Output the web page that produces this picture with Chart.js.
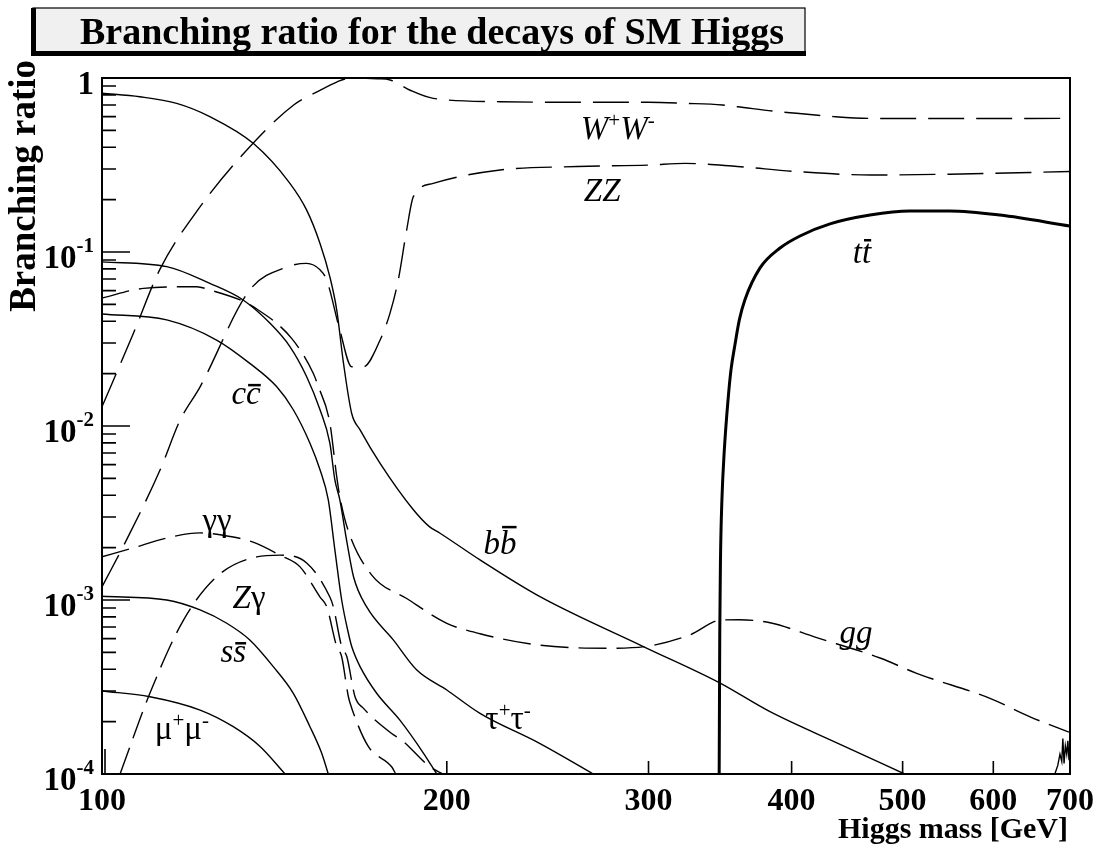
<!DOCTYPE html>
<html>
<head>
<meta charset="utf-8">
<title>Branching ratio for the decays of SM Higgs</title>
<script src="https://cdn.jsdelivr.net/npm/chart.js@4.4.1/dist/chart.umd.min.js"></script>
<style>
  html, body { margin: 0; padding: 0; background: #fff; }
  canvas { display: block; }
</style>
</head>
<body>
<canvas id="chartBR" width="1096" height="844"></canvas>
<script>
// Higgs mass (GeV) and branching ratio for each decay channel

const massBB = [100, 107.9, 116.2, 124.2, 135.6, 145.9, 150.9, 155, 158.1, 160.3, 162.5, 165.2, 168, 174.9, 187, 193.1, 197.3, 213.8, 241.2, 296.9, 345.8, 383, 440, 502];
const brBB = [0.817, 0.78, 0.715, 0.6, 0.42, 0.248, 0.174, 0.112, 0.072, 0.0464, 0.0229, 0.0118, 0.0095, 0.0061, 0.0033, 0.00264, 0.00242, 0.0017, 0.001045, 0.00054, 0.000335, 0.000228, 0.000149, 0.0001];

const massTauTau = [100, 113.9, 124.2, 132.8, 140.2, 145.9, 150.9, 155, 158.1, 159.7, 161.3, 163.5, 165.8, 170.2, 179.6, 188.3, 200, 213.8, 241, 268.5];
const brTauTau = [0.0877, 0.0824, 0.066, 0.053, 0.0389, 0.0286, 0.0192, 0.0124, 0.00796, 0.0049, 0.00376, 0.00221, 0.00136, 0.000915, 0.00059, 0.000396, 0.000304, 0.000223, 0.00015, 0.0001];

const massCC = [100, 113.9, 125.9, 134.6, 142.1, 146.9, 151.9, 155, 157.6, 159.7, 161.9, 164.1, 165.2, 168, 173.7, 182, 190.8, 196];
const brCC = [0.044, 0.0407, 0.0312, 0.0229, 0.0168, 0.0124, 0.00796, 0.0056, 0.00376, 0.00194, 0.001, 0.000644, 0.00054, 0.000414, 0.000291, 0.000204, 0.000132, 0.0001];

const massSS = [100, 113.9, 121.8, 128.5, 134.6, 141.1, 146.9, 151.9, 155.5, 157.6];
const brSS = [0.00105, 0.001, 0.000877, 0.000735, 0.000589, 0.000414, 0.000291, 0.000187, 0.000132, 0.0001];

const massMuMu = [100, 110.1, 121.8, 130.2, 137.4, 144.5];
const brMuMu = [0.0003, 0.000278, 0.000233, 0.000187, 0.000144, 0.0001];

const massTT = [345.8, 346.2, 346.7, 347.7, 349.4, 352, 354.1, 356.9, 360.1, 364.1, 375.4, 390.8, 406.8, 432.1, 468.3, 507.4, 549.9, 608.1, 700];
const brTT = [0.0001, 0.00064, 0.0017, 0.00376, 0.0073, 0.0141, 0.021, 0.0292, 0.0407, 0.053, 0.081, 0.1054, 0.1236, 0.145, 0.163, 0.172, 0.172, 0.163, 0.141];

const massGG = [100, 108.7, 121, 124.2, 132, 135.5, 146.4, 152.9, 154.3, 158.1, 160.3, 161.3, 164, 172, 184.5, 200, 213.8, 241, 275.8, 298, 326, 347, 360, 383, 420, 477.8, 514.3, 596, 646, 698.5];
const brGG = [0.0544, 0.0618, 0.0632, 0.0605, 0.053, 0.0485, 0.0319, 0.0201, 0.0172, 0.0104, 0.0051, 0.00392, 0.00252, 0.00139, 0.00102, 0.000735, 0.00064, 0.00055, 0.000528, 0.00054, 0.00063, 0.000767, 0.00077, 0.00074, 0.00061, 0.000464, 0.000379, 0.000272, 0.000213, 0.000174];

const massGamGam = [100, 106.4, 113.9, 121.8, 130.2, 135.5, 143, 148.9, 155, 157.1, 160.3, 161.9, 164.1, 165.2, 170.8, 179, 180.5];
const brGamGam = [0.00177, 0.00199, 0.00227, 0.00243, 0.0023, 0.00215, 0.00181, 0.00155, 0.00104, 0.000915, 0.00054, 0.000472, 0.000278, 0.000239, 0.000144, 0.00011, 0.0001];

const massZGam = [103.7, 110.1, 117.8, 125.9, 136.5, 143, 150.9, 158.1, 159.2, 161.9, 163.6, 166.3, 169.1, 179, 182.6, 193.3, 198.5];
const brZGam = [0.0001, 0.000291, 0.000767, 0.00136, 0.00177, 0.00181, 0.00163, 0.00104, 0.000915, 0.00054, 0.000472, 0.000278, 0.000239, 0.000171, 0.000157, 0.00011, 0.0001];

const massWW = [100, 106.5, 112.4, 121.5, 133.8, 147, 155, 160.3, 163.5, 170, 174, 178.5, 185.6, 194.6, 222.6, 260, 300, 323, 348, 358.6, 389.6, 404, 435.5, 469, 550, 700];
const brWW = [0.0129, 0.034, 0.08, 0.178, 0.386, 0.70, 0.85, 0.948, 0.99, 0.995, 0.99, 0.974, 0.853, 0.764, 0.731, 0.725, 0.725, 0.715, 0.70, 0.684, 0.64, 0.627, 0.60, 0.586, 0.585, 0.586];

const massZZ = [100, 105, 112.4, 117, 121.8, 134.6, 145, 150.9, 155, 157.1, 161.3, 165.2, 169.1, 174.9, 178.4, 181.4, 184.5, 187, 194.6, 222.6, 260, 300, 323, 358.6, 404, 469, 550, 700];
const brZZ = [0.00119, 0.0022, 0.0056, 0.0108, 0.0168, 0.0605, 0.082, 0.086, 0.079, 0.069, 0.0356, 0.0219, 0.0219, 0.0312, 0.0444, 0.069, 0.134, 0.208, 0.248, 0.296, 0.31, 0.316, 0.323, 0.31, 0.29, 0.277, 0.28, 0.29];

// numerical jitter at the high mass end
const massJitter = [679, 683, 686, 688.5, 690, 691.7, 693.5, 695.4, 697, 698.6, 700];
const brJitter = [0.0001, 0.000112, 0.00013, 0.000118, 0.00016, 0.000115, 0.000145, 0.00013, 0.000155, 0.00012, 0.00014];

// axis ticks
const xTicks = [100, 200, 300, 400, 500, 600, 700];
const xTickLabels = ["100", "200", "300", "400", "500", "600", "700"];
const yDecades = [1e-4, 1e-3, 1e-2, 1e-1, 1];
const yDecadeLabels = [["10", "-4"], ["10", "-3"], ["10", "-2"], ["10", "-1"], ["1", ""]];

// channel names written on the plot, anchored at (mass, BR)
const channelLabels = [
  { m: 282, br: 0.516, parts: [{ t: "W", it: true }, { t: "+", sup: true }, { t: "W", it: true }, { t: "-", sup: true }] },
  { m: 273.3, br: 0.227, parts: [{ t: "ZZ", it: true }] },
  { m: 460.8, br: 0.1, parts: [{ t: "t", it: true }, { t: "t", it: true, bar: 21 }] },
  { m: 133.6, br: 0.0155, parts: [{ t: "c", it: true }, { t: "c", it: true, bar: 17 }] },
  { m: 222.6, br: 0.00213, parts: [{ t: "b", it: true }, { t: "b", it: true, bar: 25 }] },
  { m: 126, br: 0.0029, parts: [{ t: "\u03b3\u03b3" }] },
  { m: 134.4, br: 0.00104, parts: [{ t: "Z", it: true }, { t: "\u03b3" }] },
  { m: 130.2, br: 0.000509, parts: [{ t: "s", it: true }, { t: "s", it: true, bar: 17 }] },
  { m: 117.4, br: 0.000184, parts: [{ t: "\u03bc" }, { t: "+", sup: true }, { t: "\u03bc" }, { t: "-", sup: true }] },
  { m: 226.2, br: 0.00021, parts: [{ t: "\u03c4" }, { t: "+", sup: true }, { t: "\u03c4" }, { t: "-", sup: true }] },
  { m: 455.2, br: 0.000655, parts: [{ t: "gg", it: true }] }
];

const SERIF = '"Liberation Serif", "Times New Roman", serif';

function points(mass, br) {
  return mass.map((m, i) => ({ x: m, y: br[i] }));
}

function curve(mass, br, dash, width) {
  return {
    data: points(mass, br),
    borderColor: "#000",
    borderWidth: width || 1.4,
    borderDash: dash || [],
    pointRadius: 0,
    fill: false,
    cubicInterpolationMode: "monotone"
  };
}

function drawParts(ctx, parts, cx, cy) {
  const size = 33;
  const fontOf = p => (p.it ? "italic " : "") + (p.sup ? 21 : size) + "px " + SERIF;
  let total = 0;
  const widths = parts.map(p => {
    ctx.font = fontOf(p);
    const w = ctx.measureText(p.t).width;
    total += w;
    return w;
  });
  let x = cx - total / 2;
  const base = cy + 11;
  ctx.textAlign = "left";
  ctx.textBaseline = "alphabetic";
  parts.forEach((p, i) => {
    ctx.font = fontOf(p);
    ctx.fillText(p.t, x, p.sup ? base - 12 : base);
    if (p.bar) {
      ctx.fillRect(x + 2, base - p.bar - 3, widths[i] - 2, 2.5);
    }
    x += widths[i];
  });
}

const decorations = {
  id: "decorations",
  afterDatasetsDraw(chart) {
    const { ctx, chartArea: a, scales } = chart;
    const xs = scales.x, ys = scales.y;
    ctx.save();
    ctx.fillStyle = "#000";
    ctx.strokeStyle = "#000";

    // frame
    ctx.lineWidth = 2;
    ctx.strokeRect(a.left, a.top, a.right - a.left, a.bottom - a.top);

    // y ticks: long at decades, short for 2..9
    ctx.lineWidth = 1.6;
    ctx.beginPath();
    yDecades.forEach((d, k) => {
      const py = ys.getPixelForValue(d);
      ctx.moveTo(a.left, py);
      ctx.lineTo(a.left + 28, py);
      if (k < yDecades.length - 1) {
        for (let j = 2; j <= 9; j++) {
          const my = ys.getPixelForValue(d * j);
          ctx.moveTo(a.left, my);
          ctx.lineTo(a.left + 14, my);
        }
      }
    });
    // x ticks: 100 is a primary tick, drawn just inside the frame
    xTicks.forEach((t, k) => {
      const px = xs.getPixelForValue(t) + (k === 0 ? 3 : 0);
      ctx.moveTo(px, a.bottom);
      ctx.lineTo(px, a.bottom - (k === 0 ? 25 : 13));
    });
    ctx.stroke();

    // y tick labels
    ctx.textBaseline = "alphabetic";
    ctx.textAlign = "left";
    yDecades.forEach((d, k) => {
      const py = ys.getPixelForValue(d);
      const [mant, ex] = yDecadeLabels[k];
      ctx.font = "bold 21px " + SERIF;
      const we = ex ? ctx.measureText(ex).width : 0;
      ctx.font = "bold 33px " + SERIF;
      const wm = ctx.measureText(mant).width;
      const right = a.left - 8;
      ctx.fillText(mant, right - we - wm, py + 16);
      if (ex) {
        ctx.font = "bold 21px " + SERIF;
        ctx.fillText(ex, right - we, py);
      }
    });

    // x tick labels
    ctx.font = "bold 32px " + SERIF;
    ctx.textAlign = "center";
    xTicks.forEach((t, k) => {
      ctx.fillText(xTickLabels[k], xs.getPixelForValue(t), a.bottom + 36);
    });

    // axis titles
    ctx.font = "bold 30px " + SERIF;
    ctx.textAlign = "right";
    ctx.fillText("Higgs mass [GeV]", a.right - 2, 838);
    ctx.save();
    ctx.translate(35, 60);
    ctx.rotate(-Math.PI / 2);
    ctx.font = "bold 37px " + SERIF;
    ctx.textAlign = "right";
    ctx.fillText("Branching ratio", 0, 0);
    ctx.restore();

    // title box with shadow on the left and bottom
    ctx.fillStyle = "#f0f0f0";
    ctx.fillRect(33, 8, 772, 47);
    ctx.fillStyle = "#000";
    ctx.lineWidth = 1.2;
    ctx.strokeRect(33, 8, 772, 47);
    ctx.fillRect(31, 8, 5, 48);
    ctx.fillRect(31, 51, 775, 5);
    ctx.font = "bold 38px " + SERIF;
    ctx.textAlign = "center";
    ctx.fillText("Branching ratio for the decays of SM Higgs", 432, 44);

    // channel names
    channelLabels.forEach(l => {
      drawParts(ctx, l.parts, xs.getPixelForValue(l.m), ys.getPixelForValue(l.br));
    });
    ctx.restore();
  }
};

const longDash = [36, 12];
const shortDash = [28, 10];

new Chart(document.getElementById("chartBR"), {
  type: "line",
  data: {
    datasets: [
      curve(massBB, brBB),
      curve(massTauTau, brTauTau),
      curve(massCC, brCC),
      curve(massSS, brSS),
      curve(massMuMu, brMuMu),
      curve(massTT, brTT, [], 3),
      curve(massGG, brGG, shortDash),
      curve(massGamGam, brGamGam, shortDash),
      curve(massZGam, brZGam, shortDash),
      curve(massWW, brWW, longDash),
      curve(massZZ, brZZ, longDash),
      Object.assign(curve(massJitter, brJitter), { cubicInterpolationMode: "default", tension: 0 })
    ]
  },
  options: {
    responsive: false,
    animation: false,
    devicePixelRatio: 1,
    layout: { padding: { left: 102, right: 26, top: 78, bottom: 70 } },
    plugins: { legend: { display: false }, tooltip: { enabled: false } },
    scales: {
      x: { type: "logarithmic", min: 100, max: 700, display: false },
      y: { type: "logarithmic", min: 1e-4, max: 1, display: false }
    }
  },
  plugins: [decorations]
});
</script>
</body>
</html>
